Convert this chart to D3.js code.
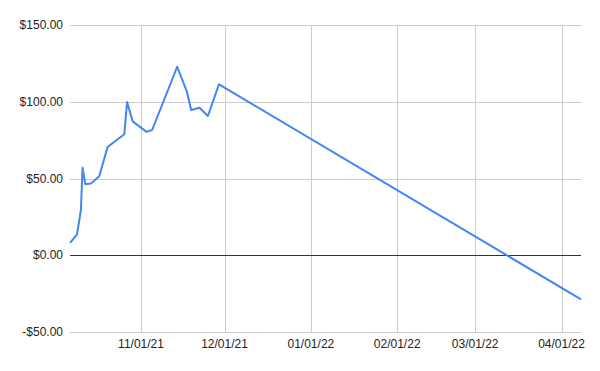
<!DOCTYPE html>
<html><head><meta charset="utf-8">
<script src="https://cdn.jsdelivr.net/npm/d3@7"></script>
<style>body{margin:0;background:#fff;} svg{display:block;font-family:Arial,"Liberation Sans",sans-serif;}</style>
</head><body>
<svg id="c" width="600" height="371"></svg>
<script>
const dates = ["2021-10-06T12:00","2021-10-09","2021-10-10T10:00","2021-10-11","2021-10-12","2021-10-14","2021-10-17","2021-10-20","2021-10-26","2021-10-27","2021-10-29","2021-11-03","2021-11-05","2021-11-14","2021-11-17T12:00","2021-11-19","2021-11-22","2021-11-25","2021-11-29","2022-04-08"];
const values = [8.0,13.5,29.3,57.0,46.3,46.8,51.5,70.5,78.8,99.8,87.2,80.4,81.6,122.8,106.5,94.6,96.1,90.7,111.3,-28.7];
const xTicks = ["2021-11-01","2021-12-01","2022-01-01","2022-02-01","2022-03-01","2022-04-01"];
const yTicks = [-50,0,50,100,150];
const xDomain = ["2021-10-06T12:00","2022-04-08T00:00"];

const parse = d3.isoParse;
const data = dates.map((d,i)=>({date:parse(d),value:values[i]}));
const svg = d3.select("#c");
const L=70,R=581,T=25,B=332;
const x = d3.scaleTime().domain(xDomain.map(parse)).range([L,R]);
const y = d3.scaleLinear().domain([-50,150]).range([B,T]);
const fmtX = d3.timeFormat("%m/%d/%y");
const fmtY = v => (v<0?"-":"")+"$"+Math.abs(v).toFixed(2);

// horizontal gridlines
svg.append("g").selectAll("line").data(yTicks).join("line")
  .attr("x1",L).attr("x2",R).attr("y1",d=>Math.round(y(d))+0.5).attr("y2",d=>Math.round(y(d))+0.5)
  .attr("stroke","#ccc").attr("stroke-width",1);
// vertical gridlines
svg.append("g").selectAll("line").data(xTicks).join("line")
  .attr("x1",d=>Math.round(x(parse(d)))+0.5).attr("x2",d=>Math.round(x(parse(d)))+0.5)
  .attr("y1",T).attr("y2",B).attr("stroke","#ccc").attr("stroke-width",1);
// zero baseline
svg.append("line").attr("x1",L).attr("x2",R).attr("y1",Math.round(y(0))+0.5).attr("y2",Math.round(y(0))+0.5)
  .attr("stroke","#333").attr("stroke-width",1);

// y labels
svg.append("g").selectAll("text").data(yTicks).join("text")
  .attr("x",63).attr("y",d=>y(d)).attr("dy","0.35em").attr("text-anchor","end")
  .attr("font-size",12).attr("fill","#222").text(fmtY);
// x labels
svg.append("g").selectAll("text").data(xTicks).join("text")
  .attr("x",d=>x(parse(d))).attr("y",348).attr("text-anchor","middle")
  .attr("font-size",12).attr("fill","#222").text(d=>fmtX(parse(d)));

// line
svg.append("path").datum(data)
  .attr("d",d3.line().x(d=>x(d.date)).y(d=>y(d.value)))
  .attr("fill","none").attr("stroke","#4285f4").attr("stroke-width",2).attr("stroke-linejoin","round");
</script>
</body></html>
